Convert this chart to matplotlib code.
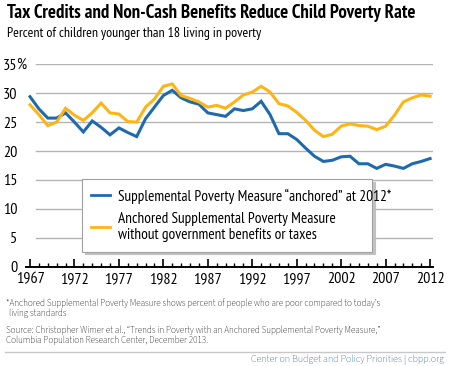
import matplotlib
matplotlib.use("Agg")
import matplotlib.pyplot as plt
from matplotlib.ticker import MultipleLocator

# ---- data ----
years = list(range(1967, 2013))
spm_anchored = [29.4, 27.3, 25.7, 25.7, 26.6, 25.0, 23.3, 25.2, 24.1, 22.8,
                24.0, 23.2, 22.5, 25.6, 27.6, 29.6, 30.5, 29.2, 28.5, 28.1,
                26.6, 26.3, 26.0, 27.3, 27.0, 27.3, 28.6, 26.3, 23.0, 23.0,
                22.0, 20.5, 19.1, 18.2, 18.4, 19.0, 19.1, 17.8, 17.8, 17.0,
                17.7, 17.4, 17.0, 17.8, 18.2, 18.7]
spm_no_benefits = [28.0, 26.3, 24.4, 25.0, 27.4, 26.2, 25.3, 26.6, 28.3, 26.6,
                   26.4, 25.1, 25.0, 27.6, 29.0, 31.2, 31.6, 29.6, 29.1, 28.5,
                   27.6, 27.9, 27.4, 28.5, 29.7, 30.2, 31.2, 30.2, 28.2, 27.8,
                   26.7, 25.3, 23.6, 22.5, 22.9, 24.3, 24.7, 24.4, 24.3, 23.7,
                   24.3, 26.2, 28.5, 29.2, 29.7, 29.5]
yticks = [0, 5, 10, 15, 20, 25, 30, 35]
xticks = [1967, 1972, 1977, 1982, 1987, 1992, 1997, 2002, 2007, 2012]
labels = ["Supplemental Poverty Measure \u201canchored\u201d at 2012*",
          "Anchored Supplemental Poverty Measure\nwithout government benefits or taxes"]

BLUE = "#1f6aad"
GOLD = "#fdb515"
NARROW = ["PT Sans Narrow", "DejaVu Sans"]
SANS = ["Source Sans 3", "Liberation Sans", "DejaVu Sans"]

plt.rcParams["font.family"] = NARROW

fig = plt.figure(figsize=(4.5, 3.66), dpi=100)
ax = fig.add_axes([26 / 450, 1 - 266.7 / 366, 407 / 450, (266.7 - 64.3) / 366])

ax.plot(years, spm_anchored, color=BLUE, lw=2.2, label=labels[0], zorder=3,
        solid_joinstyle="miter")
ax.plot(years, spm_no_benefits, color=GOLD, lw=2.2, label=labels[1], zorder=3,
        solid_joinstyle="miter")

ax.set_xlim(1966.55, 2012.33)
ax.set_ylim(0, 35)

for y in yticks[1:]:
    ax.axhline(y, xmin=0.025, xmax=1, color="#b4b4b4", lw=1, zorder=1)

for s in ["top", "right", "left"]:
    ax.spines[s].set_visible(False)
ax.spines["bottom"].set_linewidth(1.4)
ax.spines["bottom"].set_color("black")

ax.set_yticks(yticks)
ax.set_yticklabels([str(v) for v in yticks], fontsize=11.5)
ax.tick_params(axis="y", length=0, pad=6)
fig.text(16.3 / 450, 1 - 64.3 / 366, "%", fontsize=11.5, ha="left", va="center")

ax.set_xticks(xticks)
ax.set_xticklabels([str(v) for v in xticks], fontsize=11.5)
ax.xaxis.set_minor_locator(MultipleLocator(1))
ax.tick_params(axis="x", which="major", direction="in", length=6, width=1.2,
               pad=4)
ax.tick_params(axis="x", which="minor", direction="in", length=3, width=1)

leg = ax.legend(loc="upper left", bbox_to_anchor=(82 / 450, 1 - 183 / 366, 290 / 450, 0.01),
                bbox_transform=fig.transFigure, mode="expand", fontsize=11,
                frameon=True, fancybox=False,
                shadow=dict(color="#bdbdbd", alpha=0.9),
                handlelength=1.25, handletextpad=0.5, borderpad=0.6,
                labelspacing=0.55, borderaxespad=0)
leg.get_frame().set_edgecolor("#a0a0a0")
leg.get_frame().set_linewidth(0.8)
for h in leg.get_lines():
    h.set_linewidth(2.0)

fig.text(7 / 450, 1 - 13 / 366, "Tax Credits and Non-Cash Benefits Reduce Child Poverty Rate",
         fontsize=13.5, fontweight="bold", ha="left", va="center")
fig.text(7 / 450, 1 - 34 / 366, "Percent of children younger than 18 living in poverty",
         fontsize=10, ha="left", va="center")

fig.text(6 / 450, 1 - 303 / 366,
         "*Anchored Supplemental Poverty Measure shows percent of people who are poor compared to today\u2019s",
         fontsize=6.6, family=SANS, ha="left", va="center", color="black")
fig.text(9 / 450, 1 - 313.5 / 366, "living standards",
         fontsize=6.6, family=SANS, ha="left", va="center", color="black")
fig.text(6 / 450, 1 - 330 / 366,
         "Source: Christopher Wimer et al., \u201cTrends in Poverty with an Anchored Supplemental Poverty Measure,\u201d",
         fontsize=6.6, family=SANS, ha="left", va="center", color="black")
fig.text(6 / 450, 1 - 340 / 366, "Columbia Population Research Center, December 2013.",
         fontsize=6.6, family=SANS, ha="left", va="center", color="black")

fig.add_artist(plt.Line2D([5 / 450, 445 / 450], [1 - 352 / 366] * 2,
                          transform=fig.transFigure, color="#c8c8c8", lw=1))
fig.text(444 / 450, 1 - 360 / 366, "Center on Budget and Policy Priorities | cbpp.org",
         fontsize=7.2, family=SANS, ha="right", va="center", color="#245f99")

fig.savefig("out.png", dpi=100)
